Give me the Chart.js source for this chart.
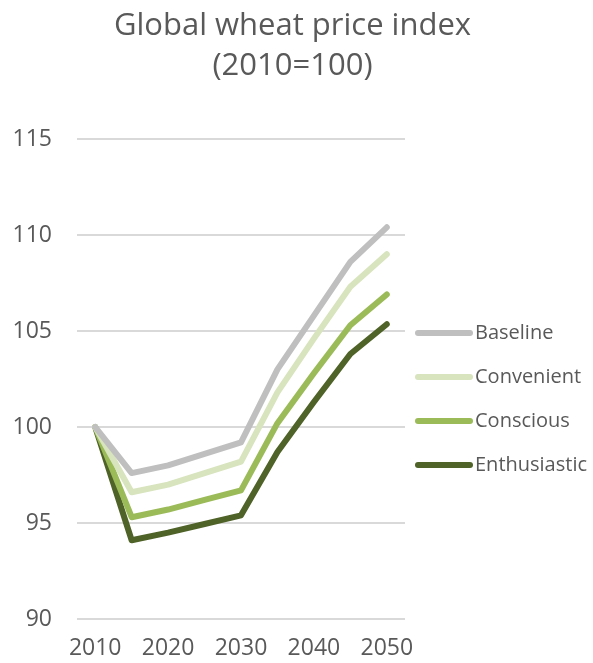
<!DOCTYPE html>
<html>
<head>
<meta charset="utf-8">
<script src="https://cdn.jsdelivr.net/npm/chart.js@4/dist/chart.umd.min.js"></script>
<style>
html,body{margin:0;padding:0;background:#fff;}
#wrap{width:593px;height:663px;position:relative;}
</style>
</head>
<body>
<div id="wrap"><canvas id="c" width="593" height="663"></canvas></div>
<script>
const years = ['2010','2015','2020','2025','2030','2035','2040','2045','2050'];
const seriesNames = ['Baseline','Convenient','Conscious','Enthusiastic'];
const baseline     = [100, 97.6, 98.0, 98.6, 99.2, 103.0, 105.8, 108.6, 110.4];
const convenient   = [100, 96.6, 97.0, 97.6, 98.2, 101.8, 104.6, 107.3, 109.0];
const conscious    = [100, 95.3, 95.7, 96.2, 96.7, 100.2, 102.8, 105.3, 106.9];
const enthusiastic = [100, 94.1, 94.5, 94.95, 95.4, 98.7, 101.3, 103.8, 105.35];
const colors = ['#BFBFBF','#D7E4BD','#9BBB59','#4F6228'];
const yTicks = [90, 95, 100, 105, 110, 115];

const FONT = "'Open Sans', sans-serif";
const TXT = '#595959';

const legendPlugin = {
  id: 'sideLegend',
  afterDraw(chart) {
    const ctx = chart.ctx;
    const ca = chart.chartArea;
    ctx.save();
    chart.data.datasets.forEach((ds, i) => {
      const x0 = ca.right + 10;
      const y = ca.top + 194 + 44 * i;
      ctx.strokeStyle = ds.borderColor;
      ctx.lineWidth = 6;
      ctx.lineCap = 'round';
      ctx.beginPath();
      ctx.moveTo(x0 + 3, y);
      ctx.lineTo(x0 + 55, y);
      ctx.stroke();
      ctx.fillStyle = TXT;
      ctx.font = "20px " + FONT;
      ctx.textBaseline = 'middle';
      ctx.textAlign = 'left';
      ctx.fillText(ds.label, x0 + 60, y);
    });
    ctx.restore();
  }
};

const dataArrays = [baseline, convenient, conscious, enthusiastic];

new Chart(document.getElementById('c'), {
  type: 'line',
  data: {
    labels: years,
    datasets: dataArrays.map((arr, i) => ({
      label: seriesNames[i],
      data: arr,
      borderColor: colors[i],
      backgroundColor: colors[i],
      borderWidth: 6,
      pointRadius: 0,
      borderJoinStyle: 'round',
      borderCapStyle: 'round',
      tension: 0,
      fill: false,
      yAxisID: 'y'
    }))
  },
  options: {
    responsive: false,
    animation: false,
    devicePixelRatio: 1,
    layout: { padding: { left: 0, right: 8, top: 0, bottom: 0 } },
    plugins: {
      legend: { display: false },
      tooltip: { enabled: false },
      title: {
        display: true,
        text: ['Global wheat price index', '(2010=100)'],
        color: TXT,
        font: { family: FONT, size: 31, weight: 'normal', lineHeight: 1.29 },
        padding: { top: 6, bottom: 53 }
      }
    },
    scales: {
      x: {
        type: 'category',
        offset: true,
        grid: { display: false, drawTicks: false },
        border: { display: false },
        afterFit: (axis) => { axis.height = 44; },
        ticks: {
          autoSkip: false,
          maxRotation: 0,
          padding: 16,
          color: TXT,
          font: { family: FONT, size: 23 },
          callback: function(v, i) {
            const lab = this.getLabelForValue(v);
            return (parseInt(lab) % 10 === 0) ? lab : '';
          }
        }
      },
      y: {
        position: 'left',
        min: 90,
        max: 115,
        afterBuildTicks: (axis) => { axis.ticks = yTicks.map(v => ({ value: v })); },
        afterFit: (axis) => { axis.width = 77; },
        grid: { color: '#D9D9D9', lineWidth: 2, drawTicks: false },
        border: { display: false },
        ticks: {
          padding: 25,
          color: TXT,
          font: { family: FONT, size: 23 }
        }
      },
      legendSpace: {
        position: 'right',
        display: true,
        min: 90,
        max: 115,
        afterFit: (axis) => { axis.width = 180; },
        grid: { display: false, drawTicks: false },
        border: { display: false },
        ticks: { display: false }
      }
    }
  },
  plugins: [legendPlugin]
});
</script>
</body>
</html>
